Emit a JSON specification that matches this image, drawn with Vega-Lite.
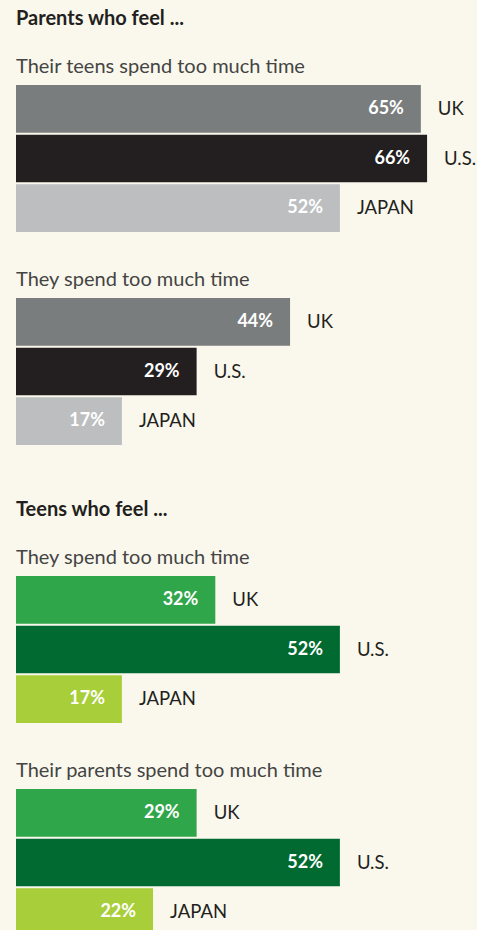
{
  "$schema": "https://vega.github.io/schema/vega-lite/v6.json",
  "background": "#faf8ec",
  "padding": {"left": 16, "top": 9, "right": 0, "bottom": 20},
  "datasets": {
    "bars": [
      {"group": "g1", "country": "UK", "value": 0.65},
      {"group": "g1", "country": "U.S.", "value": 0.66},
      {"group": "g1", "country": "JAPAN", "value": 0.52},
      {"group": "g2", "country": "UK", "value": 0.44},
      {"group": "g2", "country": "U.S.", "value": 0.29},
      {"group": "g2", "country": "JAPAN", "value": 0.17},
      {"group": "g3", "country": "UK", "value": 0.32},
      {"group": "g3", "country": "U.S.", "value": 0.52},
      {"group": "g3", "country": "JAPAN", "value": 0.17},
      {"group": "g4", "country": "UK", "value": 0.29},
      {"group": "g4", "country": "U.S.", "value": 0.52},
      {"group": "g4", "country": "JAPAN", "value": 0.22}
    ]
  },
  "config": {
    "view": {"stroke": null},
    "font": "Lato",
    "title": {"anchor": "start", "font": "Lato", "fontSize": 20, "fontWeight": "normal", "color": "#444444", "offset": 8, "baseline": "alphabetic"}
  },
  "resolve": {"scale": {"color": "independent"}},
  "spacing": 55,
  "vconcat": [
    {
      "title": {"text": "Parents who feel ...", "fontWeight": "bold", "fontSize": 20, "color": "#231f20", "offset": 12, "baseline": "alphabetic"},
      "spacing": 38,
      "resolve": {"scale": {"color": "independent"}},
      "vconcat": [
        {
          "title": "Their teens spend too much time",
          "width": 436, "height": 147,
          "data": {"name": "bars"},
          "transform": [{"filter": "datum.group == 'g1'"}],
          "encoding": {
            "y": {"field": "country", "type": "nominal", "sort": ["UK", "U.S.", "JAPAN"], "axis": null, "scale": {"paddingInner": 0.04, "paddingOuter": 0}},
            "x": {"field": "value", "type": "quantitative", "axis": null, "scale": {"domain": [0, 0.7], "nice": false}}
          },
          "layer": [
            {"mark": {"type": "bar"}, "encoding": {"color": {"field": "country", "type": "nominal", "scale": {"domain": ["UK", "U.S.", "JAPAN"], "range": ["#7a7d7e", "#231f20", "#bcbec0"]}, "legend": null}}},
            {"mark": {"type": "text", "align": "right", "baseline": "middle", "dx": -17, "color": "#ffffff", "fontWeight": "bold", "fontSize": 18}, "encoding": {"text": {"field": "value", "type": "quantitative", "format": ".0%"}}},
            {"mark": {"type": "text", "align": "left", "baseline": "middle", "dx": 17, "color": "#231f20", "fontSize": 18.5}, "encoding": {"text": {"field": "country", "type": "nominal"}}}
          ]
        },
        {
          "title": "They spend too much time",
          "width": 436, "height": 147,
          "data": {"name": "bars"},
          "transform": [{"filter": "datum.group == 'g2'"}],
          "encoding": {
            "y": {"field": "country", "type": "nominal", "sort": ["UK", "U.S.", "JAPAN"], "axis": null, "scale": {"paddingInner": 0.04, "paddingOuter": 0}},
            "x": {"field": "value", "type": "quantitative", "axis": null, "scale": {"domain": [0, 0.7], "nice": false}}
          },
          "layer": [
            {"mark": {"type": "bar"}, "encoding": {"color": {"field": "country", "type": "nominal", "scale": {"domain": ["UK", "U.S.", "JAPAN"], "range": ["#7a7d7e", "#231f20", "#bcbec0"]}, "legend": null}}},
            {"mark": {"type": "text", "align": "right", "baseline": "middle", "dx": -17, "color": "#ffffff", "fontWeight": "bold", "fontSize": 18}, "encoding": {"text": {"field": "value", "type": "quantitative", "format": ".0%"}}},
            {"mark": {"type": "text", "align": "left", "baseline": "middle", "dx": 17, "color": "#231f20", "fontSize": 18.5}, "encoding": {"text": {"field": "country", "type": "nominal"}}}
          ]
        }
      ]
    },
    {
      "title": {"text": "Teens who feel ...", "fontWeight": "bold", "fontSize": 20, "color": "#231f20", "offset": 12, "baseline": "alphabetic"},
      "spacing": 38,
      "resolve": {"scale": {"color": "independent"}},
      "vconcat": [
        {
          "title": "They spend too much time",
          "width": 436, "height": 147,
          "data": {"name": "bars"},
          "transform": [{"filter": "datum.group == 'g3'"}],
          "encoding": {
            "y": {"field": "country", "type": "nominal", "sort": ["UK", "U.S.", "JAPAN"], "axis": null, "scale": {"paddingInner": 0.04, "paddingOuter": 0}},
            "x": {"field": "value", "type": "quantitative", "axis": null, "scale": {"domain": [0, 0.7], "nice": false}}
          },
          "layer": [
            {"mark": {"type": "bar"}, "encoding": {"color": {"field": "country", "type": "nominal", "scale": {"domain": ["UK", "U.S.", "JAPAN"], "range": ["#30a64a", "#006a31", "#a8ce39"]}, "legend": null}}},
            {"mark": {"type": "text", "align": "right", "baseline": "middle", "dx": -17, "color": "#ffffff", "fontWeight": "bold", "fontSize": 18}, "encoding": {"text": {"field": "value", "type": "quantitative", "format": ".0%"}}},
            {"mark": {"type": "text", "align": "left", "baseline": "middle", "dx": 17, "color": "#231f20", "fontSize": 18.5}, "encoding": {"text": {"field": "country", "type": "nominal"}}}
          ]
        },
        {
          "title": "Their parents spend too much time",
          "width": 436, "height": 147,
          "data": {"name": "bars"},
          "transform": [{"filter": "datum.group == 'g4'"}],
          "encoding": {
            "y": {"field": "country", "type": "nominal", "sort": ["UK", "U.S.", "JAPAN"], "axis": null, "scale": {"paddingInner": 0.04, "paddingOuter": 0}},
            "x": {"field": "value", "type": "quantitative", "axis": null, "scale": {"domain": [0, 0.7], "nice": false}}
          },
          "layer": [
            {"mark": {"type": "bar"}, "encoding": {"color": {"field": "country", "type": "nominal", "scale": {"domain": ["UK", "U.S.", "JAPAN"], "range": ["#30a64a", "#006a31", "#a8ce39"]}, "legend": null}}},
            {"mark": {"type": "text", "align": "right", "baseline": "middle", "dx": -17, "color": "#ffffff", "fontWeight": "bold", "fontSize": 18}, "encoding": {"text": {"field": "value", "type": "quantitative", "format": ".0%"}}},
            {"mark": {"type": "text", "align": "left", "baseline": "middle", "dx": 17, "color": "#231f20", "fontSize": 18.5}, "encoding": {"text": {"field": "country", "type": "nominal"}}}
          ]
        }
      ]
    }
  ]
}
